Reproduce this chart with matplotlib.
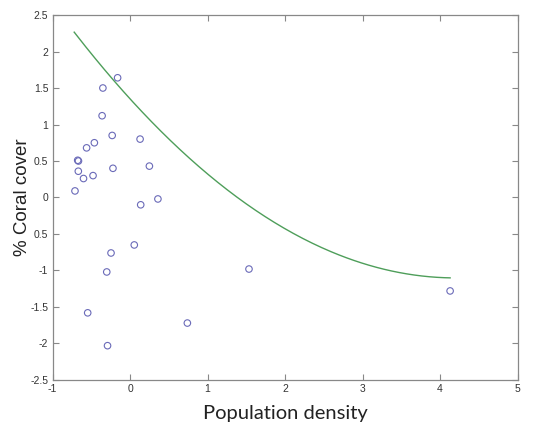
import numpy as np
import matplotlib
matplotlib.use("Agg")
import matplotlib.pyplot as plt

# Reef sites: population density vs. coral cover (standardised)
pop_density = [-0.16, -0.35, -0.36, -0.23, 0.13, -0.46, -0.56, -0.675, -0.665,
               -0.667, -0.22, 0.25, -0.60, -0.477, -0.71, 0.138, 0.36, 0.055,
               -0.245, -0.30, -0.546, -0.29, 1.535, 0.74, 4.13]
coral_cover = [1.64, 1.50, 1.12, 0.85, 0.80, 0.75, 0.68, 0.51, 0.50,
               0.36, 0.40, 0.43, 0.26, 0.30, 0.09, -0.10, -0.02, -0.65,
               -0.76, -1.02, -1.58, -2.03, -0.98, -1.72, -1.28]

# Quadratic fit  y = c2*x^2 + c1*x + c0, drawn over the observed range
fit_coeffs = [0.139, -1.168, 1.352]
fit_range = [-0.72, 4.13]

xticks = [-1, 0, 1, 2, 3, 4, 5]
yticks = [-2.5, -2, -1.5, -1, -0.5, 0, 0.5, 1, 1.5, 2, 2.5]
ytick_labels = ['-2.5', '-2', '-1.5', '-1', '0.5', '0', '0.5', '1', '1.5', '2', '2.5']

fig = plt.figure(figsize=(5.33, 4.30), dpi=100)
ax = fig.add_axes([0.0985, 0.1163, 0.8725, 0.8488])

xf = np.linspace(fit_range[0], fit_range[1], 200)
ax.plot(xf, np.polyval(fit_coeffs, xf), color='#4e9e5a', lw=1.0)
ax.scatter(pop_density, coral_cover, s=22, facecolors='none',
           edgecolors='#6a6ab8', linewidths=0.8, zorder=3)

ax.set_xlim(-1, 5)
ax.set_ylim(-2.5, 2.5)
ax.set_xticks(xticks)
ax.set_xticklabels([str(t) for t in xticks])
ax.set_yticks(yticks)
ax.set_yticklabels(ytick_labels)

ax.tick_params(direction='in', length=4, width=0.8, color='#888888',
               labelsize=7.5, labelcolor='#333333', top=True, right=True, pad=3)
for lab in ax.get_xticklabels() + ax.get_yticklabels():
    lab.set_family('Liberation Sans')
for sp in ax.spines.values():
    sp.set_color('#888888')
    sp.set_linewidth(0.9)

ax.set_xlabel('Population density', fontsize=14.5, family='Lato',
              color='#222222', labelpad=8)
ax.set_ylabel('% Coral cover', fontsize=13.5, family='Liberation Sans',
              color='#222222')
ax.yaxis.set_label_coords(-0.047, 0.5)

fig.savefig('out.png', dpi=100, facecolor='white')
